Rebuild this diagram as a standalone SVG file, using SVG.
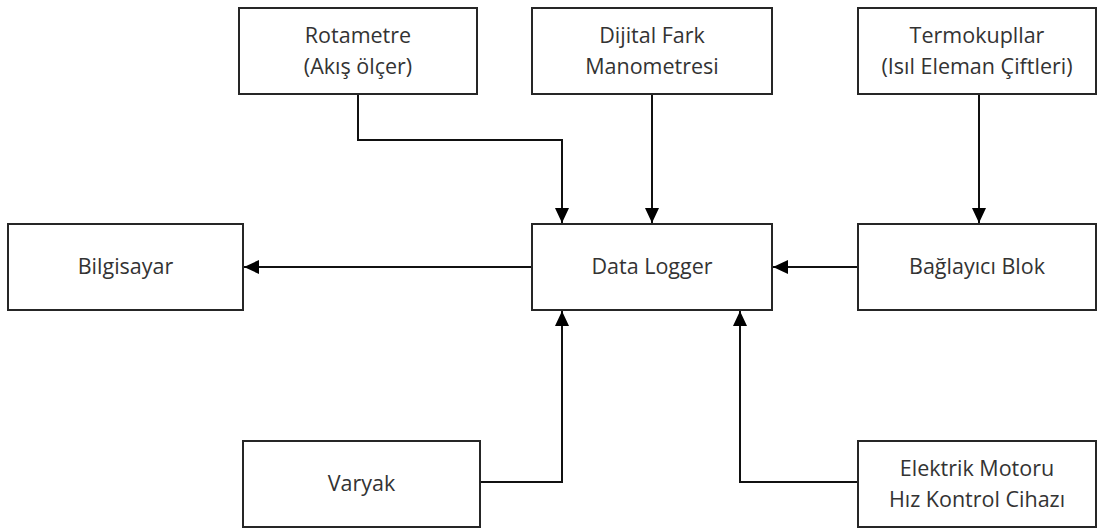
<svg xmlns="http://www.w3.org/2000/svg" width="1098" height="530" viewBox="0 0 1098 530">
  <style>
    .box { fill: #ffffff; stroke: #262626; stroke-width: 2; }
    .lbl { font-family: "Open Sans", "Noto Sans", "DejaVu Sans", sans-serif; font-size: 21.5px; fill: #333333; text-anchor: middle; }
    .wire { fill: none; stroke: #111111; stroke-width: 2; }
  </style>
  <defs>
    <marker id="arrow" viewBox="0 0 15 14" refX="15" refY="7" markerWidth="15" markerHeight="14" markerUnits="userSpaceOnUse" orient="auto">
      <path d="M0,0 L15,7 L0,14 Z" fill="#000000"/>
    </marker>
  </defs>
  <rect width="1098" height="530" fill="#ffffff"/>

  <g id="connectors">
    <!-- Rotametre -> Data Logger -->
    <path class="wire" d="M358,94 V140 H562 V223" marker-end="url(#arrow)"/>
    <!-- Dijital Fark Manometresi -> Data Logger -->
    <path class="wire" d="M652,94 V223" marker-end="url(#arrow)"/>
    <!-- Termokupllar -> Bağlayıcı Blok -->
    <path class="wire" d="M979,94 V223" marker-end="url(#arrow)"/>
    <!-- Bağlayıcı Blok -> Data Logger -->
    <path class="wire" d="M858,267 H773" marker-end="url(#arrow)"/>
    <!-- Data Logger -> Bilgisayar -->
    <path class="wire" d="M532,267 H244" marker-end="url(#arrow)"/>
    <!-- Varyak -> Data Logger -->
    <path class="wire" d="M480,482 H562 V311" marker-end="url(#arrow)"/>
    <!-- Motor speed controller -> Data Logger -->
    <path class="wire" d="M858,482 H740 V311" marker-end="url(#arrow)"/>
  </g>

  <g id="rotametre">
    <rect class="box" x="239" y="8" width="238" height="86"/>
    <text class="lbl" x="358" y="43">Rotametre</text>
    <text class="lbl" x="358" y="74">(Akış ölçer)</text>
  </g>

  <g id="manometre">
    <rect class="box" x="532" y="8" width="240" height="86"/>
    <text class="lbl" x="652" y="43">Dijital Fark</text>
    <text class="lbl" x="652" y="74">Manometresi</text>
  </g>

  <g id="termokupllar">
    <rect class="box" x="858" y="8" width="238" height="86"/>
    <text class="lbl" x="977" y="43">Termokupllar</text>
    <text class="lbl" x="977" y="74">(Isıl Eleman Çiftleri)</text>
  </g>

  <g id="bilgisayar">
    <rect class="box" x="8" y="224" width="235" height="86"/>
    <text class="lbl" x="125.5" y="274">Bilgisayar</text>
  </g>

  <g id="data-logger">
    <rect class="box" x="532" y="224" width="240" height="86"/>
    <text class="lbl" x="652" y="274">Data Logger</text>
  </g>

  <g id="baglayici-blok">
    <rect class="box" x="858" y="224" width="238" height="86"/>
    <text class="lbl" x="977" y="274">Bağlayıcı Blok</text>
  </g>

  <g id="varyak">
    <rect class="box" x="243" y="441" width="237" height="86"/>
    <text class="lbl" x="361.5" y="491">Varyak</text>
  </g>

  <g id="motor-hiz-kontrol">
    <rect class="box" x="858" y="441" width="238" height="86"/>
    <text class="lbl" x="977" y="476">Elektrik Motoru</text>
    <text class="lbl" x="977" y="507">Hız Kontrol Cihazı</text>
  </g>
</svg>
